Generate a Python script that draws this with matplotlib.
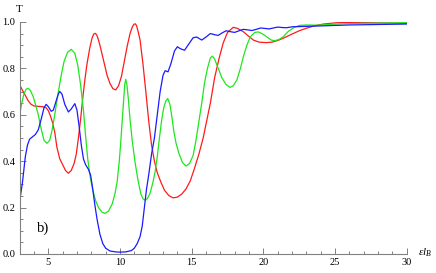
import matplotlib
matplotlib.use("Agg")
import matplotlib.pyplot as plt
from matplotlib.ticker import MultipleLocator

plt.rcParams["font.family"] = ["Liberation Serif", "DejaVu Serif"]
plt.rcParams["mathtext.fontset"] = "custom"
plt.rcParams["mathtext.rm"] = "Liberation Serif"
plt.rcParams["mathtext.it"] = "Liberation Serif:italic"

# values
blue_x = [3.0, 3.2, 3.4, 3.55, 3.7, 3.9, 4.1, 4.3, 4.5, 4.7, 4.85, 5.0, 5.2, 5.35,
          5.55, 5.7, 5.8, 5.95, 6.15, 6.4, 6.6, 6.85, 7.0, 7.15, 7.3, 7.45, 7.6,
          7.8, 7.95, 8.1, 8.25, 8.4, 8.6, 8.8, 9.0, 9.3, 9.7, 10.0, 10.4, 10.8,
          11.0, 11.2, 11.4, 11.55, 11.7, 11.85, 12.0, 12.2, 12.4, 12.6, 12.8,
          13.0, 13.15, 13.35, 13.55, 13.8, 14.0, 14.2, 14.5, 14.8, 15.1, 15.35,
          15.7, 16.0, 16.3, 16.6, 16.85, 17.1, 17.4, 17.7, 18.0, 18.3, 18.6,
          18.9, 19.2, 19.5, 19.8, 20.1, 20.4, 20.7, 21.0, 21.3, 21.6, 22.0,
          22.5, 23.0, 24.0, 25.0, 26.0, 27.0, 28.0, 29.0, 30.0]
blue_t = [0.225, 0.31, 0.42, 0.47, 0.495, 0.505, 0.515, 0.535, 0.58, 0.63, 0.645,
          0.635, 0.615, 0.62, 0.66, 0.69, 0.70, 0.69, 0.645, 0.612, 0.625, 0.648,
          0.62, 0.55, 0.47, 0.41, 0.385, 0.365, 0.34, 0.28, 0.21, 0.15, 0.085,
          0.045, 0.025, 0.013, 0.009, 0.008, 0.009, 0.015, 0.025, 0.045, 0.075,
          0.12, 0.2, 0.28, 0.34, 0.43, 0.5, 0.6, 0.7, 0.77, 0.79, 0.785, 0.82,
          0.875, 0.893, 0.885, 0.878, 0.905, 0.932, 0.935, 0.922, 0.935, 0.95,
          0.945, 0.942, 0.952, 0.962, 0.958, 0.955, 0.962, 0.968, 0.966, 0.963,
          0.968, 0.974, 0.972, 0.97, 0.974, 0.978, 0.976, 0.975, 0.979, 0.98,
          0.981, 0.983, 0.985, 0.987, 0.988, 0.989, 0.99, 0.991]

red_x = [3.0, 3.2, 3.4, 3.6, 3.8, 4.0, 4.3, 4.6, 4.85, 5.0, 5.15, 5.3, 5.45, 5.6,
         5.8, 6.0, 6.2, 6.4, 6.6, 6.8, 6.95, 7.1, 7.25, 7.4, 7.55, 7.7, 7.9, 8.05,
         8.17, 8.27, 8.37, 8.47, 8.6, 8.85, 9.1, 9.3, 9.5, 9.7, 9.9, 10.1, 10.3,
         10.5, 10.7, 10.85, 10.97, 11.06, 11.15, 11.25, 11.4, 11.6, 11.8, 12.0,
         12.2, 12.4, 12.6, 12.85, 13.1, 13.4, 13.7, 14.0, 14.3, 14.6, 14.9, 15.2,
         15.5, 15.8, 16.0, 16.3, 16.6, 16.9, 17.2, 17.5, 17.9, 18.2, 18.6, 19.0,
         19.3, 19.7, 20.2, 20.6, 21.0, 21.5, 22.0, 22.5, 23.0, 23.6, 24.2, 25.0,
         25.6, 26.5, 27.2, 28.0, 29.0, 30.0]
red_t = [0.73, 0.705, 0.683, 0.66, 0.645, 0.638, 0.636, 0.635, 0.63, 0.618, 0.595,
         0.565, 0.525, 0.46, 0.41, 0.385, 0.36, 0.348, 0.36, 0.39, 0.43, 0.5,
         0.58, 0.67, 0.75, 0.82, 0.89, 0.93, 0.948, 0.951, 0.945, 0.928, 0.9,
         0.835, 0.77, 0.735, 0.713, 0.707, 0.725, 0.765, 0.83, 0.895, 0.95,
         0.977, 0.99, 0.992, 0.985, 0.962, 0.922, 0.82, 0.7, 0.575, 0.47, 0.4,
         0.35, 0.31, 0.275, 0.252, 0.242, 0.245, 0.258, 0.28, 0.315, 0.37, 0.43,
         0.5, 0.56, 0.65, 0.76, 0.84, 0.91, 0.955, 0.977, 0.972, 0.958, 0.937,
         0.922, 0.913, 0.911, 0.913, 0.92, 0.933, 0.948, 0.962, 0.973, 0.984,
         0.991, 0.996, 0.998, 0.998, 0.997, 0.996, 0.995, 0.994]

green_x = [3.0, 3.15, 3.3, 3.45, 3.6, 3.75, 3.95, 4.15, 4.3, 4.5, 4.7, 4.9, 5.1,
           5.25, 5.45, 5.65, 5.9, 6.1, 6.35, 6.6, 6.85, 7.05, 7.25, 7.45, 7.6,
           7.75, 7.9, 8.1, 8.3, 8.5, 8.75, 8.95, 9.2, 9.45, 9.65, 9.8, 9.95,
           10.05, 10.15, 10.25, 10.33, 10.4, 10.48, 10.58, 10.7, 10.85, 11.05,
           11.25, 11.45, 11.6, 11.75, 11.9, 12.1, 12.3, 12.45, 12.6, 12.75, 12.9,
           13.05, 13.2, 13.33, 13.48, 13.62, 13.75, 13.9, 14.1, 14.35, 14.6,
           14.85, 15.1, 15.3, 15.5, 15.7, 15.9, 16.1, 16.3, 16.45, 16.6, 16.85,
           17.1, 17.4, 17.68, 17.9, 18.15, 18.4, 18.6, 18.85, 19.1, 19.4, 19.65,
           19.95, 20.25, 20.55, 20.8, 21.1, 21.4, 21.75, 22.1, 22.5, 23.0, 23.7,
           24.5, 25.5, 26.75, 28.0, 29.0, 30.0]
green_t = [0.60, 0.65, 0.69, 0.71, 0.714, 0.705, 0.678, 0.635, 0.6, 0.54, 0.49,
           0.477, 0.49, 0.53, 0.6, 0.68, 0.77, 0.83, 0.87, 0.882, 0.865, 0.815,
           0.73, 0.62, 0.51, 0.41, 0.34, 0.275, 0.23, 0.2, 0.18, 0.175, 0.185,
           0.215, 0.26, 0.31, 0.4, 0.48, 0.57, 0.66, 0.73, 0.753, 0.73, 0.67,
           0.58, 0.49, 0.395, 0.32, 0.26, 0.238, 0.232, 0.238, 0.262, 0.31, 0.355,
           0.42, 0.5, 0.575, 0.63, 0.66, 0.67, 0.645, 0.59, 0.53, 0.48, 0.435,
           0.395, 0.379, 0.39, 0.425, 0.49, 0.57, 0.65, 0.74, 0.8, 0.845, 0.853,
           0.84, 0.8, 0.76, 0.73, 0.718, 0.725, 0.75, 0.8, 0.85, 0.9, 0.937,
           0.955, 0.957, 0.948, 0.935, 0.922, 0.919, 0.925, 0.937, 0.96, 0.975,
           0.985, 0.987, 0.986, 0.989, 0.992, 0.994, 0.995, 0.996, 0.997]

AXIS_GRAY = "#808080"

fig = plt.figure(figsize=(4.36, 2.73), dpi=100)
ax = fig.add_axes([0.045, 0.0696, 0.888, 0.85])

ax.plot(red_x, red_t, color="#ff1a1a", lw=0.9)
ax.plot(green_x, green_t, color="#1ee61e", lw=0.9)
ax.plot(blue_x, blue_t, color="#1a1aff", lw=0.9)

ax.set_xlim(3, 30)
ax.set_ylim(0, 1.0)
ax.xaxis.set_minor_locator(MultipleLocator(1))
ax.yaxis.set_minor_locator(MultipleLocator(0.05))
ax.set_xticks([5, 10, 15, 20, 25, 30])
ax.set_yticks([0.0, 0.2, 0.4, 0.6, 0.8, 1.0])
ax.set_yticklabels(["0.0", "0.2", "0.4", "0.6", "0.8", "1.0"])

for side in ["top", "right"]:
    ax.spines[side].set_visible(False)
for side in ["left", "bottom"]:
    ax.spines[side].set_color(AXIS_GRAY)
    ax.spines[side].set_linewidth(0.8)

ax.tick_params(which="both", direction="in", color=AXIS_GRAY, labelsize=7.5,
               width=0.7, pad=3)
ax.tick_params(which="major", length=4)
ax.tick_params(which="minor", length=2.2)

ax.text(-0.002, 1.035, "T", transform=ax.transAxes, fontsize=8,
        ha="center", va="bottom")
ax.text(1.048, 0.004, r"$\epsilon l_B$", transform=ax.transAxes, fontsize=8,
        ha="center", va="center")
ax.text(4.65, 0.11, "b)", fontsize=10.5, ha="center", va="center")

fig.savefig("out.png", dpi=100)
